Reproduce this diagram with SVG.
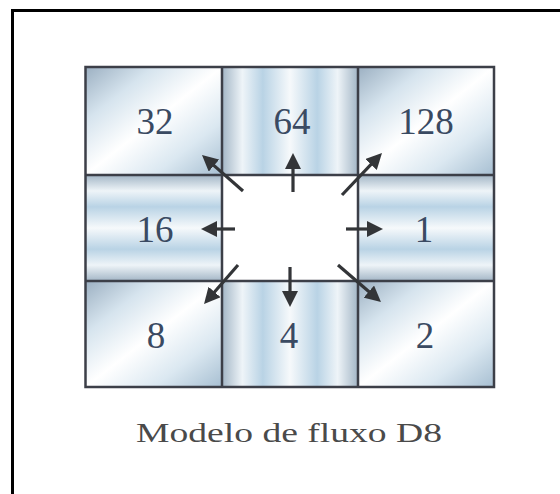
<svg xmlns="http://www.w3.org/2000/svg" width="560" height="494" viewBox="0 0 560 494">
<defs>
<style>
.grid{fill:none;stroke:#3c3f48;stroke-width:2.5}
.num{font-family:"Liberation Serif","Times New Roman",serif;font-size:37px;fill:#3a4a62;text-anchor:middle}
.cap{font-family:"Liberation Serif","Times New Roman",serif;font-size:27px;fill:#4a4a4a}
.arr{stroke:#333538;stroke-width:3.2;fill:none;marker-end:url(#ah)}
.frame{stroke:#000;stroke-width:3;fill:none}
</style>
<linearGradient id="gd" x1="0" y1="0" x2="1" y2="1">
<stop offset="0" stop-color="#9cb0c2"/>
<stop offset="0.25" stop-color="#d6e4ee"/>
<stop offset="0.5" stop-color="#ffffff"/>
<stop offset="0.75" stop-color="#dbe8f1"/>
<stop offset="1" stop-color="#a7bfd2"/>
</linearGradient>
<linearGradient id="gh" x1="0" y1="0" x2="1" y2="0">
<stop offset="0" stop-color="#a3b6c6"/>
<stop offset="0.15" stop-color="#eef4f8"/>
<stop offset="0.3" stop-color="#b9d3e5"/>
<stop offset="0.5" stop-color="#f6f9fb"/>
<stop offset="0.7" stop-color="#b9d3e5"/>
<stop offset="0.85" stop-color="#eef4f8"/>
<stop offset="1" stop-color="#a3b6c6"/>
</linearGradient>
<linearGradient id="gv" x1="0" y1="0" x2="0" y2="1">
<stop offset="0" stop-color="#a3b6c6"/>
<stop offset="0.15" stop-color="#eef4f8"/>
<stop offset="0.3" stop-color="#b9d3e5"/>
<stop offset="0.5" stop-color="#f6f9fb"/>
<stop offset="0.7" stop-color="#b9d3e5"/>
<stop offset="0.85" stop-color="#eef4f8"/>
<stop offset="1" stop-color="#a3b6c6"/>
</linearGradient>
<marker id="ah" viewBox="0 0 16 16" refX="6" refY="8" markerWidth="16" markerHeight="16" markerUnits="userSpaceOnUse" orient="auto">
<path d="M0,0 L16,8 L0,16 z" fill="#333538"/>
</marker>
</defs>
<rect width="560" height="494" fill="#fff"/>
<path class="frame" d="M12.5,494 V10.5 H560"/>

<g id="cell-32"><rect x="85.5" y="67" width="136.5" height="108" fill="url(#gd)"/><text class="num" x="155" y="134">32</text></g>
<g id="cell-64"><rect x="222" y="67" width="136" height="108" fill="url(#gh)"/><text class="num" x="292" y="134">64</text></g>
<g id="cell-128"><rect x="358" y="67" width="136" height="108" fill="url(#gd)"/><text class="num" x="426" y="134">128</text></g>
<g id="cell-16"><rect x="85.5" y="175" width="136.5" height="106" fill="url(#gv)"/><text class="num" x="155" y="242">16</text></g>
<g id="cell-center"><rect x="222" y="175" width="136" height="106" fill="#ffffff"/></g>
<g id="cell-1"><rect x="358" y="175" width="136" height="106" fill="url(#gv)"/><text class="num" x="424" y="242">1</text></g>
<g id="cell-8"><rect x="85.5" y="281" width="136.5" height="106" fill="url(#gd)"/><text class="num" x="156" y="348">8</text></g>
<g id="cell-4"><rect x="222" y="281" width="136" height="106" fill="url(#gh)"/><text class="num" x="289" y="348">4</text></g>
<g id="cell-2"><rect x="358" y="281" width="136" height="106" fill="url(#gd)"/><text class="num" x="425" y="348">2</text></g>

<g id="grid">
<rect class="grid" x="85.5" y="67" width="408.5" height="320"/>
<path class="grid" d="M222,67 V387 M358,67 V387 M85.5,175 H494 M85.5,281 H494"/>
</g>

<g id="connectors">
<path class="arr" d="M293,192 L293,163"/>
<path class="arr" d="M290,267 L290,297"/>
<path class="arr" d="M235,229 L211,229"/>
<path class="arr" d="M346,229 L373,229"/>
<path class="arr" d="M243,191 L209.5,161.6"/>
<path class="arr" d="M342,195 L375.1,160.2"/>
<path class="arr" d="M238,265 L210.6,296.5"/>
<path class="arr" d="M338,265 L373.4,295.5"/>
</g>

<g id="caption"><text class="cap" x="136" y="442" textLength="306" lengthAdjust="spacingAndGlyphs">Modelo de fluxo D8</text></g>
</svg>
